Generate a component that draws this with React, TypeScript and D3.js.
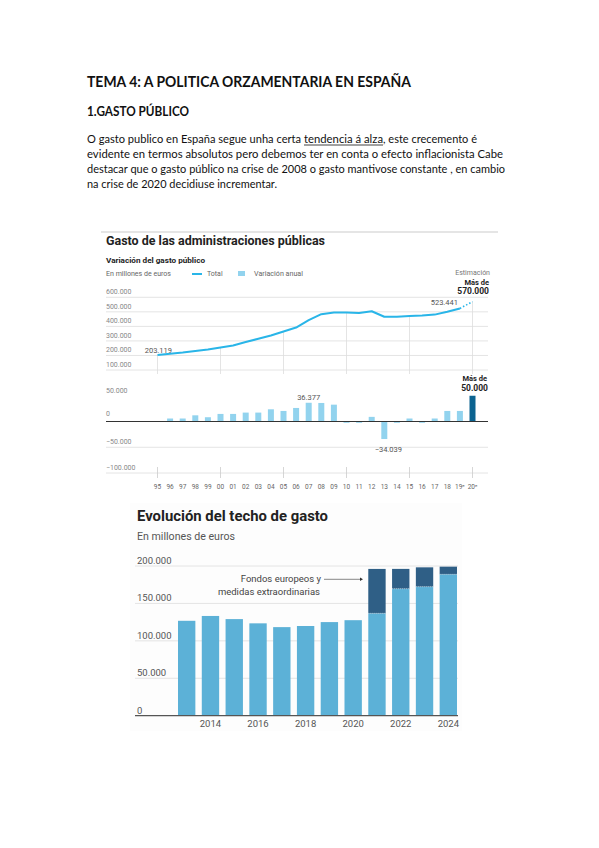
import * as d3 from 'd3';

// Gasto de las administraciones públicas (millones de euros)
const yearLabels = ['95', '96', '97', '98', '99', '00', '01', '02', '03', '04', '05', '06', '07', '08', '09', '10', '11', '12', '13', '14', '15', '16', '17', '18', '19ᵉ', '20ᵉ'];
const totalSpend = [203119, 212000, 220000, 230000, 241000, 255000, 269000, 292000, 315000, 337000, 365000, 392000, 443000, 484000, 495000, 495000, 492000, 504000, 466000, 467000, 472000, 474000, 481000, 500000, 523441, 570000];
const annualChange: Array<number | null> = [null, 5800, 5800, 12000, 8300, 14700, 14700, 17300, 17300, 23700, 20500, 26300, 36377, 36000, 32700, -2500, -2500, 9000, -34039, -2500, 5800, -2500, 5800, 20500, 20500, 50000];
const topTicks = [600000, 500000, 400000, 300000, 200000, 100000];
const bottomTicks = [50000, 0, -50000, -100000];
const gridYears = ['95', '00', '05', '10', '15', '20ᵉ'];

// Evolución del techo de gasto
const ceilingYears = ['2013', '2014', '2015', '2016', '2017', '2018', '2019', '2020', '2021', '2022', '2023', '2024'];
const ceilingBase = [126792, 133259, 129060, 123394, 118337, 119834, 125064, 127609, 136779, 169600, 172300, 188900];
const ceilingTotal = [126792, 133259, 129060, 123394, 118337, 119834, 125064, 127609, 196097, 196142, 198221, 199120];
const ceilingTicks = [0, 50000, 100000, 150000, 200000];
const ceilingLabels = ['2014', '2016', '2018', '2020', '2022', '2024'];

const fmt = d3
  .formatLocale({ decimal: ',', thousands: '.', grouping: [3], currency: ['', '€'], minus: '−' })
  .format(',d');

const DOC = 'Lato, "Open Sans", sans-serif';
const SANS = 'Roboto, "Liberation Sans", sans-serif';

const LINE = '#29b5e8';
const BAR = '#92d3ee';
const BAR_DARK = '#0b6390';
const LIGHT = '#5cb1d7';
const DARK = '#2f5f86';

function Doc() {
  const p = { fontFamily: DOC, fontSize: 10.5, fill: '#111', lengthAdjust: 'spacingAndGlyphs' as const };
  return (
    <g>
      <text x={87} y={87} fontFamily={DOC} fontSize={15} fontWeight={700} fill="#111" textLength={324} lengthAdjust="spacingAndGlyphs">
        TEMA 4: A POLITICA ORZAMENTARIA EN ESPAÑA
      </text>
      <text x={87} y={116} fontFamily={DOC} fontSize={12.5} fontWeight={700} fill="#111" textLength={102} lengthAdjust="spacingAndGlyphs">
        1.GASTO PÚBLICO
      </text>
      <text x={87} y={142.5} {...p} textLength={214}>O gasto publico en España segue unha certa</text>
      <text x={304} y={142.5} {...p} textLength={79}>tendencia á alza</text>
      <line x1={304} x2={383} y1={145} y2={145} stroke="#111" strokeWidth={0.8} />
      <text x={383} y={142.5} {...p} textLength={94}>, este crecemento é</text>
      <text x={87} y={157.8} {...p} textLength={416}>evidente en termos absolutos pero debemos ter en conta o efecto inflacionista  Cabe</text>
      <text x={87} y={173.1} {...p} textLength={418}>destacar que o gasto público na crise de 2008  o gasto mantivose constante , en cambio</text>
      <text x={87} y={188.4} {...p} textLength={190}>na crise de 2020  decidiuse incrementar.</text>
    </g>
  );
}

function SpendChart() {
  const x = d3.scalePoint<string>().domain(yearLabels).range([157.5, 472.5]);
  const yTop = d3.scaleLinear().domain([100000, 600000]).range([370, 297.3]);
  const yBot = d3.scaleLinear().domain([-100000, 100000]).range([473, 370]);
  const left = 106;
  const right = 488;
  const n = yearLabels.length;

  const solid = d3
    .line<number>()
    .x((_, i) => x(yearLabels[i]) as number)
    .y((v) => yTop(v))(totalSpend.slice(0, n - 1)) ?? '';
  const dotted = d3
    .line<number>()
    .x((_, i) => x(yearLabels[n - 2 + i]) as number)
    .y((v) => yTop(v))(totalSpend.slice(n - 2)) ?? '';

  const barW = 6;
  return (
    <g fontFamily={SANS}>
      <line x1={101} x2={498} y1={232} y2={232} stroke="#ddd" strokeWidth={1.5} />
      <text x={left} y={245} fontSize={13} fontWeight={700} fill="#222" textLength={219} lengthAdjust="spacingAndGlyphs">
        Gasto de las administraciones públicas
      </text>
      <text x={left} y={263} fontSize={8} fontWeight={700} fill="#222" textLength={99} lengthAdjust="spacingAndGlyphs">
        Variación del gasto público
      </text>
      <text x={left} y={276} fontSize={7} fill="#666" textLength={65} lengthAdjust="spacingAndGlyphs">
        En millones de euros
      </text>
      <line x1={192} x2={202} y1={274} y2={274} stroke={LINE} strokeWidth={2} />
      <text x={207} y={276} fontSize={7} fill="#666">Total</text>
      <rect x={238} y={271} width={7} height={5} fill={BAR} />
      <text x={254} y={276} fontSize={7} fill="#666" textLength={49} lengthAdjust="spacingAndGlyphs">Variación anual</text>
      <text x={490} y={275} fontSize={7} fill="#777" textAnchor="end">Estimación</text>
      <text x={489} y={284.5} fontSize={7.5} fontWeight={700} fill="#222" textAnchor="end">Más de</text>
      <text x={489} y={294} fontSize={8.5} fontWeight={700} fill="#222" textAnchor="end">570.000</text>

      {topTicks.map((t) => (
        <g key={`t${t}`}>
          <line x1={left} x2={right} y1={yTop(t)} y2={yTop(t)} stroke="#ddd" strokeWidth={0.8} />
          <text x={left} y={yTop(t) - 3} fontSize={7} fill="#888">{fmt(t)}</text>
        </g>
      ))}
      {bottomTicks.map((t) => (
        <g key={`b${t}`}>
          {t < 0 && <line x1={left} x2={right} y1={yBot(t)} y2={yBot(t)} stroke="#ddd" strokeWidth={0.8} />}
          <text x={left} y={yBot(t) - (t === 0 ? 6 : 3)} fontSize={7} fill="#888">{fmt(t)}</text>
        </g>
      ))}

      {gridYears.map((g) => {
        const i = yearLabels.indexOf(g);
        const gx = x(g) as number;
        return (
          <g key={`v${g}`}>
            <line x1={gx} x2={gx} y1={yTop(totalSpend[i])} y2={374} stroke="#ddd" strokeWidth={0.8} />
            <line x1={gx} x2={gx} y1={467} y2={478} stroke="#ccc" strokeWidth={0.8} />
          </g>
        );
      })}

      {annualChange.map((v, i) =>
        v === null ? null : (
          <rect
            key={`bar${i}`}
            x={(x(yearLabels[i]) as number) - barW / 2}
            width={barW}
            y={yBot(Math.max(0, v))}
            height={Math.abs(yBot(v) - yBot(0))}
            fill={i === n - 1 ? BAR_DARK : BAR}
          />
        ),
      )}
      <line x1={left} x2={right} y1={yBot(0)} y2={yBot(0)} stroke="#333" strokeWidth={1} />

      <path d={solid} fill="none" stroke={LINE} strokeWidth={2} strokeLinejoin="round" />
      <path d={dotted} fill="none" stroke={LINE} strokeWidth={1.6} strokeDasharray="1.5 2" />

      <text x={172} y={352.5} fontSize={7.5} fill="#555" textAnchor="end">{fmt(totalSpend[0])}</text>
      <text x={458} y={305} fontSize={7.5} fill="#555" textAnchor="end">{fmt(totalSpend[n - 2])}</text>
      <text x={x('07')} y={400} fontSize={7.5} fill="#555" textAnchor="middle">{fmt(annualChange[12] as number)}</text>
      <text x={(x('13') as number) + 4} y={452} fontSize={7.5} fill="#555" textAnchor="middle">{fmt(annualChange[18] as number)}</text>
      <text x={487} y={381} fontSize={7.5} fontWeight={700} fill="#222" textAnchor="end">Más de</text>
      <text x={488} y={391} fontSize={8.5} fontWeight={700} fill="#222" textAnchor="end">{fmt(annualChange[n - 1] as number)}</text>

      {yearLabels.map((l) => (
        <text key={`xl${l}`} x={x(l)} y={489} fontSize={6.5} fill="#666" textAnchor="middle">{l}</text>
      ))}
    </g>
  );
}

function CeilingChart() {
  const x = d3.scaleBand<string>().domain(ceilingYears).range([178, 457]).paddingInner(0.27).paddingOuter(0);
  const y = d3.scaleLinear().domain([0, 200000]).range([715.7, 566]);
  const left = 135;
  const right = 458;
  return (
    <g fontFamily={SANS}>
      <rect x={130} y={503} width={332} height={228} fill="#fdfdfd" />
      <text x={137} y={521} fontSize={15.5} fontWeight={700} fill="#222" textLength={191} lengthAdjust="spacingAndGlyphs">
        Evolución del techo de gasto
      </text>
      <text x={137} y={540} fontSize={11} fill="#555" textLength={98} lengthAdjust="spacingAndGlyphs">
        En millones de euros
      </text>
      {ceilingTicks.map((t) => (
        <g key={`c${t}`}>
          {t > 0 && <line x1={left} x2={right} y1={y(t)} y2={y(t)} stroke="#ddd" strokeWidth={0.8} />}
          <text x={137} y={y(t) - 2} fontSize={9.5} fill="#555">{fmt(t)}</text>
        </g>
      ))}
      {ceilingYears.map((yr, i) => (
        <g key={`cb${yr}`}>
          <rect x={x(yr)} width={x.bandwidth()} y={y(ceilingBase[i])} height={y(0) - y(ceilingBase[i])} fill={LIGHT} />
          {ceilingTotal[i] > ceilingBase[i] && (
            <>
              <rect
                x={x(yr)}
                width={x.bandwidth()}
                y={y(ceilingTotal[i])}
                height={y(ceilingBase[i]) - y(ceilingTotal[i])}
                fill={DARK}
              />
              <line
                x1={x(yr)}
                x2={(x(yr) as number) + x.bandwidth()}
                y1={y(ceilingBase[i])}
                y2={y(ceilingBase[i])}
                stroke="#cfe6f2"
                strokeWidth={0.6}
                strokeDasharray="1 1"
              />
            </>
          )}
        </g>
      ))}
      <line x1={left} x2={right} y1={y(0)} y2={y(0)} stroke="#555" strokeWidth={1.2} />
      {ceilingLabels.map((l) => (
        <text key={`cl${l}`} x={(x(l) as number) + x.bandwidth() / 2} y={727} fontSize={9.5} fill="#555" textAnchor="middle">
          {l}
        </text>
      ))}
      <text x={321} y={582} fontSize={9.5} fill="#444" textAnchor="end">Fondos europeos y</text>
      <text x={320} y={594.5} fontSize={9.5} fill="#444" textAnchor="end">medidas extraordinarias</text>
      <line x1={324} x2={360} y1={579.3} y2={579.3} stroke="#555" strokeWidth={0.7} />
      <path d="M360,577.5 L363,579.3 L360,581.1 Z" fill="#333" />
    </g>
  );
}

export default function App() {
  return (
    <svg
      width={599}
      height={848}
      viewBox="0 0 599 848"
      style={{ position: 'absolute', left: 0, top: 0, background: '#fff' }}
    >
      <rect width={599} height={848} fill="#fff" />
      <Doc />
      <SpendChart />
      <CeilingChart />
    </svg>
  );
}
